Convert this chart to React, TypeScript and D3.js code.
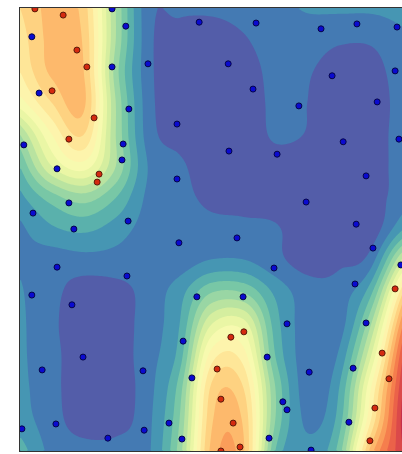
import * as d3 from 'd3';
import React, { useEffect, useRef } from 'react';

// decision surface, in contour-level units (0..20),
// 13 columns (left -> right) x 15 rows (top -> bottom)
const fieldGrid = [
  [12, 13.3, 12.5, 6, 1.4, 1.2, 1.2, 1.4, 1.7, 2.1, 2.2, 2.2, 2.4],
  [11.5, 13.3, 12.8, 6, 1.4, 0.6, 0.5, 0.9, 1.5, 1.5, 1.15, 1.15, 1.8],
  [11, 13.2, 13, 5.5, 1.4, 0.4, 0.3, 0.5, 1.3, 1.1, 0.5, 0.6, 1.6],
  [9.5, 12, 13.2, 6, 1.5, 0.4, 0.2, 0.4, 1.2, 1.0, 0.3, 0.4, 1.5],
  [6, 10, 12, 6, 1.6, 0.6, 0.3, 0.5, 1.1, 0.95, 0.3, 0.5, 1.5],
  [4, 8, 9.5, 6, 2.0, 1.2, 0.4, 0.5, 0.7, 0.5, 0.3, 0.5, 1.5],
  [2.7, 4.5, 5.5, 4, 1.8, 1.3, 0.8, 0.8, 0.6, 0.3, 0.2, 0.5, 1.6],
  [1.8, 2.8, 3.2, 2.5, 1.6, 1.4, 1.3, 1.2, 1.1, 0.4, 0.3, 0.4, 3],
  [1.9, 1.5, 1.6, 1.6, 1.4, 1.5, 2.1, 2.1, 1.3, 0.6, 0.8, 1.6, 7.5],
  [2.1, 1.3, 0.5, 0.6, 1.4, 2.6, 5, 5, 2.8, 1.5, 1.5, 3.8, 12],
  [2.2, 1.2, 0.4, 0.5, 1.5, 3.0, 8, 8.5, 3.5, 1.5, 1.5, 6, 15],
  [2.2, 1.3, 0.4, 0.5, 1.6, 3.5, 10.5, 10.5, 4, 1.5, 2.2, 8, 17],
  [2.3, 1.3, 0.4, 0.5, 1.6, 4.5, 12.2, 12, 5, 1.5, 3, 10, 18],
  [2.5, 1.4, 0.5, 0.6, 1.7, 5, 12.8, 12.8, 5, 1.8, 3.5, 11, 18.5],
  [3.5, 1.7, 1.4, 1.4, 1.8, 5.5, 13.3, 13.2, 4, 2.3, 4.5, 13.5, 18],
];
const levelCount = 20;

// scatter points (x, y in 0..10) and their class (1 = red, 0 = blue)
const pointX = [
  0.39, 1.13, 1.49, 1.75, 0.84, 1.94, 1.28, 2.07, 2.02, 5.86, 5.52, 5.16, 5.26, 5.58, 5.76, 5.26,
  9.82, 9.48, 9.66, 9.29, 9.16,
  2.41, 0.31, 2.77, 2.41, 3.35, 4.69, 6.18, 7.88, 8.82, 9.87, 5.45, 8.17, 9.82, 0.5, 2.85, 6.1,
  7.3, 9.35, 4.11, 9.92, 0.1, 2.7, 8.46, 5.47, 6.73, 2.67, 0.97, 9.06, 4.11, 7.49, 1.28, 0.34,
  2.83, 1.41, 8.8, 4.16, 5.68, 9.24, 0.97, 2.8, 6.65, 9.97, 8.77, 0.31, 1.36, 4.63, 5.84, 6.99,
  9.06, 4.27, 1.65, 6.47, 0.58, 3.22, 4.5, 7.57, 8.72, 6.88, 6.99, 0.05, 0.94, 3.25, 3.9, 8.61,
  2.3, 4.24, 6.52, 7.62,
];
const pointY = [
  9.98, 9.84, 9.05, 8.67, 8.13, 7.52, 7.04, 6.25, 6.07, 2.69, 2.57, 1.85, 1.17, 0.63, 0.09, 0.0,
  3.66, 2.21, 1.63, 0.97, 0.23,
  9.98, 9.35, 9.59, 8.67, 8.74, 9.68, 9.66, 9.53, 9.64, 9.57, 8.74, 8.47, 8.58, 8.08, 7.72, 8.17,
  7.79, 7.88, 7.38, 7.04, 6.91, 6.93, 6.98, 6.77, 6.7, 6.57, 6.37, 6.21, 6.14, 5.62, 5.6, 5.37,
  5.19, 5.01, 5.12, 4.7, 4.81, 4.58, 4.15, 3.95, 4.13, 4.2, 3.77, 3.52, 3.3, 3.48, 3.48, 2.87,
  2.89, 2.48, 2.12, 2.12, 1.83, 1.81, 1.65, 1.78, 1.87, 1.11, 0.93, 0.5, 0.61, 0.47, 0.63, 0.65,
  0.29, 0.27, 0.29, 0.02,
];
const pointClass = [
  1, 1, 1, 1, 1, 1, 1, 1, 1, 1, 1, 1, 1, 1, 1, 1, 1, 1, 1, 1, 1,
  0, 0, 0, 0, 0, 0, 0, 0, 0, 0, 0, 0, 0, 0, 0, 0, 0, 0, 0, 0, 0, 0, 0, 0, 0, 0, 0, 0, 0, 0, 0,
  0, 0, 0, 0, 0, 0, 0, 0, 0, 0, 0, 0, 0, 0, 0, 0, 0, 0, 0, 0, 0, 0, 0, 0, 0, 0, 0, 0, 0, 0, 0,
  0, 0, 0, 0, 0, 0, 0, 0,
];

// smooth sampling of the coarse grid (catmull-rom)
function sampleField(gx: number, gy: number) {
  const rows = fieldGrid.length;
  const cols = fieldGrid[0].length;
  const at = (i: number, j: number): number => {
    if (i < 0) return 2 * at(0, j) - at(1, j);
    if (i > cols - 1) return 2 * at(cols - 1, j) - at(cols - 2, j);
    if (j < 0) return 2 * at(i, 0) - at(i, 1);
    if (j > rows - 1) return 2 * at(i, rows - 1) - at(i, rows - 2);
    return fieldGrid[j][i];
  };
  const cr = (p0: number, p1: number, p2: number, p3: number, t: number) =>
    p1 + 0.5 * t * (p2 - p0 + t * (2 * p0 - 5 * p1 + 4 * p2 - p3 + t * (3 * (p1 - p2) + p3 - p0)));
  const ix = Math.min(Math.floor(gx), cols - 2);
  const iy = Math.min(Math.floor(gy), rows - 2);
  const tx = gx - ix;
  const ty = gy - iy;
  const r: number[] = [];
  for (let m = -1; m <= 2; m++) {
    r.push(cr(at(ix - 1, iy + m), at(ix, iy + m), at(ix + 1, iy + m), at(ix + 2, iy + m), tx));
  }
  return cr(r[0], r[1], r[2], r[3], ty);
}

function App() {
  const svgRef = useRef<SVGSVGElement>(null);

  useEffect(() => {
    const svg = d3.select(svgRef.current);
    svg.selectAll('*').remove();

    const xScale = d3.scaleLinear().domain([0, 10]).range([20, 402]);
    const yScale = d3.scaleLinear().domain([0, 10]).range([451, 8]);
    const x0 = xScale(0);
    const x1 = xScale(10);
    const y0 = yScale(10);
    const y1 = yScale(0);
    const w = x1 - x0;
    const h = y1 - y0;

    const cols = fieldGrid[0].length;
    const rows = fieldGrid.length;
    const nx = 191;
    const ny = 222;
    const values = new Array(nx * ny);
    for (let j = 0; j < ny; j++) {
      for (let i = 0; i < nx; i++) {
        const gx = ((i + 0.5) / nx) * (cols - 1);
        const gy = ((j + 0.5) / ny) * (rows - 1);
        values[j * nx + i] = sampleField(gx, gy);
      }
    }

    const bandColor = (k: number) => d3.interpolateSpectral(1 - (k + 0.5) / levelCount);

    svg
      .append('defs')
      .append('clipPath')
      .attr('id', 'plot-clip')
      .append('rect')
      .attr('x', x0)
      .attr('y', y0)
      .attr('width', w + 4)
      .attr('height', h);

    const plot = svg.append('g').attr('clip-path', 'url(#plot-clip)');

    plot
      .append('rect')
      .attr('x', x0)
      .attr('y', y0)
      .attr('width', w + 4)
      .attr('height', h)
      .attr('fill', bandColor(0));

    const contours = d3
      .contours()
      .size([nx, ny])
      .thresholds(d3.range(1, levelCount))(values);

    plot
      .append('g')
      .attr('transform', `translate(${x0},${y0}) scale(${(w + 1) / nx},${h / ny})`)
      .selectAll('path')
      .data(contours)
      .join('path')
      .attr('d', d3.geoPath())
      .attr('fill', d => bandColor(d.value));

    plot
      .append('g')
      .selectAll('circle')
      .data(pointX.map((x, i) => ({ x, y: pointY[i], c: pointClass[i] })))
      .join('circle')
      .attr('cx', d => xScale(d.x))
      .attr('cy', d => yScale(d.y))
      .attr('r', 3)
      .attr('fill', d => (d.c === 1 ? '#d42a10' : '#0a0ad0'))
      .attr('stroke', d => (d.c === 1 ? '#5a1a0a' : '#05054a'))
      .attr('stroke-width', 1);

    svg
      .append('rect')
      .attr('x', x0 - 0.5)
      .attr('y', y0 - 0.5)
      .attr('width', w + 10)
      .attr('height', h + 1)
      .attr('fill', 'none')
      .attr('stroke', '#333')
      .attr('stroke-width', 1);
  }, []);

  return (
    <svg
      ref={svgRef}
      width={402}
      height={454}
      style={{ position: 'absolute', left: 0, top: 0, display: 'block', background: '#fff' }}
    />
  );
}

export default App;
